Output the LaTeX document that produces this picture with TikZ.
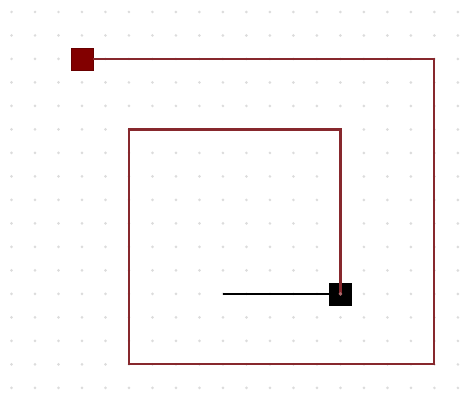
\documentclass[tikz,border=0pt]{standalone}
\usepackage{xcolor}
\usetikzlibrary{positioning, calc}
\definecolor{wireRed}{RGB}{135, 40, 45}
\definecolor{padRed}{RGB}{130, 0, 0}
\definecolor{dotGray}{RGB}{220, 220, 220}

\begin{document}
\begin{tikzpicture}[x=0.5cm, y=-0.5cm,
				pad_start/.style = {draw=padRed!80!black, fill=padRed, rectangle,
					minimum size=0.47cm, inner sep=0pt},
				pad_end/.style   = {draw=black, fill=black, rectangle,
					minimum size=0.47cm, inner sep=0pt},
				wire/.style      = {draw=wireRed, line width=1.3pt},
				lead/.style      = {draw=black, line width=0.9pt}
				]
				\useasboundingbox (-0.49, -0.51) rectangle (19.6, 16.21);
				% dot grid
				\foreach \i in {0,...,19}
				\foreach \j in {0,...,16}
				\fill[dotGray] (\i, \j) circle (0.9pt);
				
				\node[pad_start] (start) at (3, 2) {};
				\node[pad_end] (finish) at (14, 12) {};
				\coordinate (c1) at (18, 2);
				\coordinate (c2) at (18, 15);
				\coordinate (c3) at (5, 15);
				\coordinate (c4) at (5, 5);
				\coordinate (c5) at (14, 5);
				\coordinate (tail) at (9, 12);
				
				\draw[wire] (start.east) -- (c1) -- (c2) -- (c3) -- (c4) -- (c5) -- (finish.center);
				\draw[lead] (tail) -- (finish.center);
				\fill[wireRed!70] (finish.center) circle (1.2pt);
			\end{tikzpicture}
\end{document}
